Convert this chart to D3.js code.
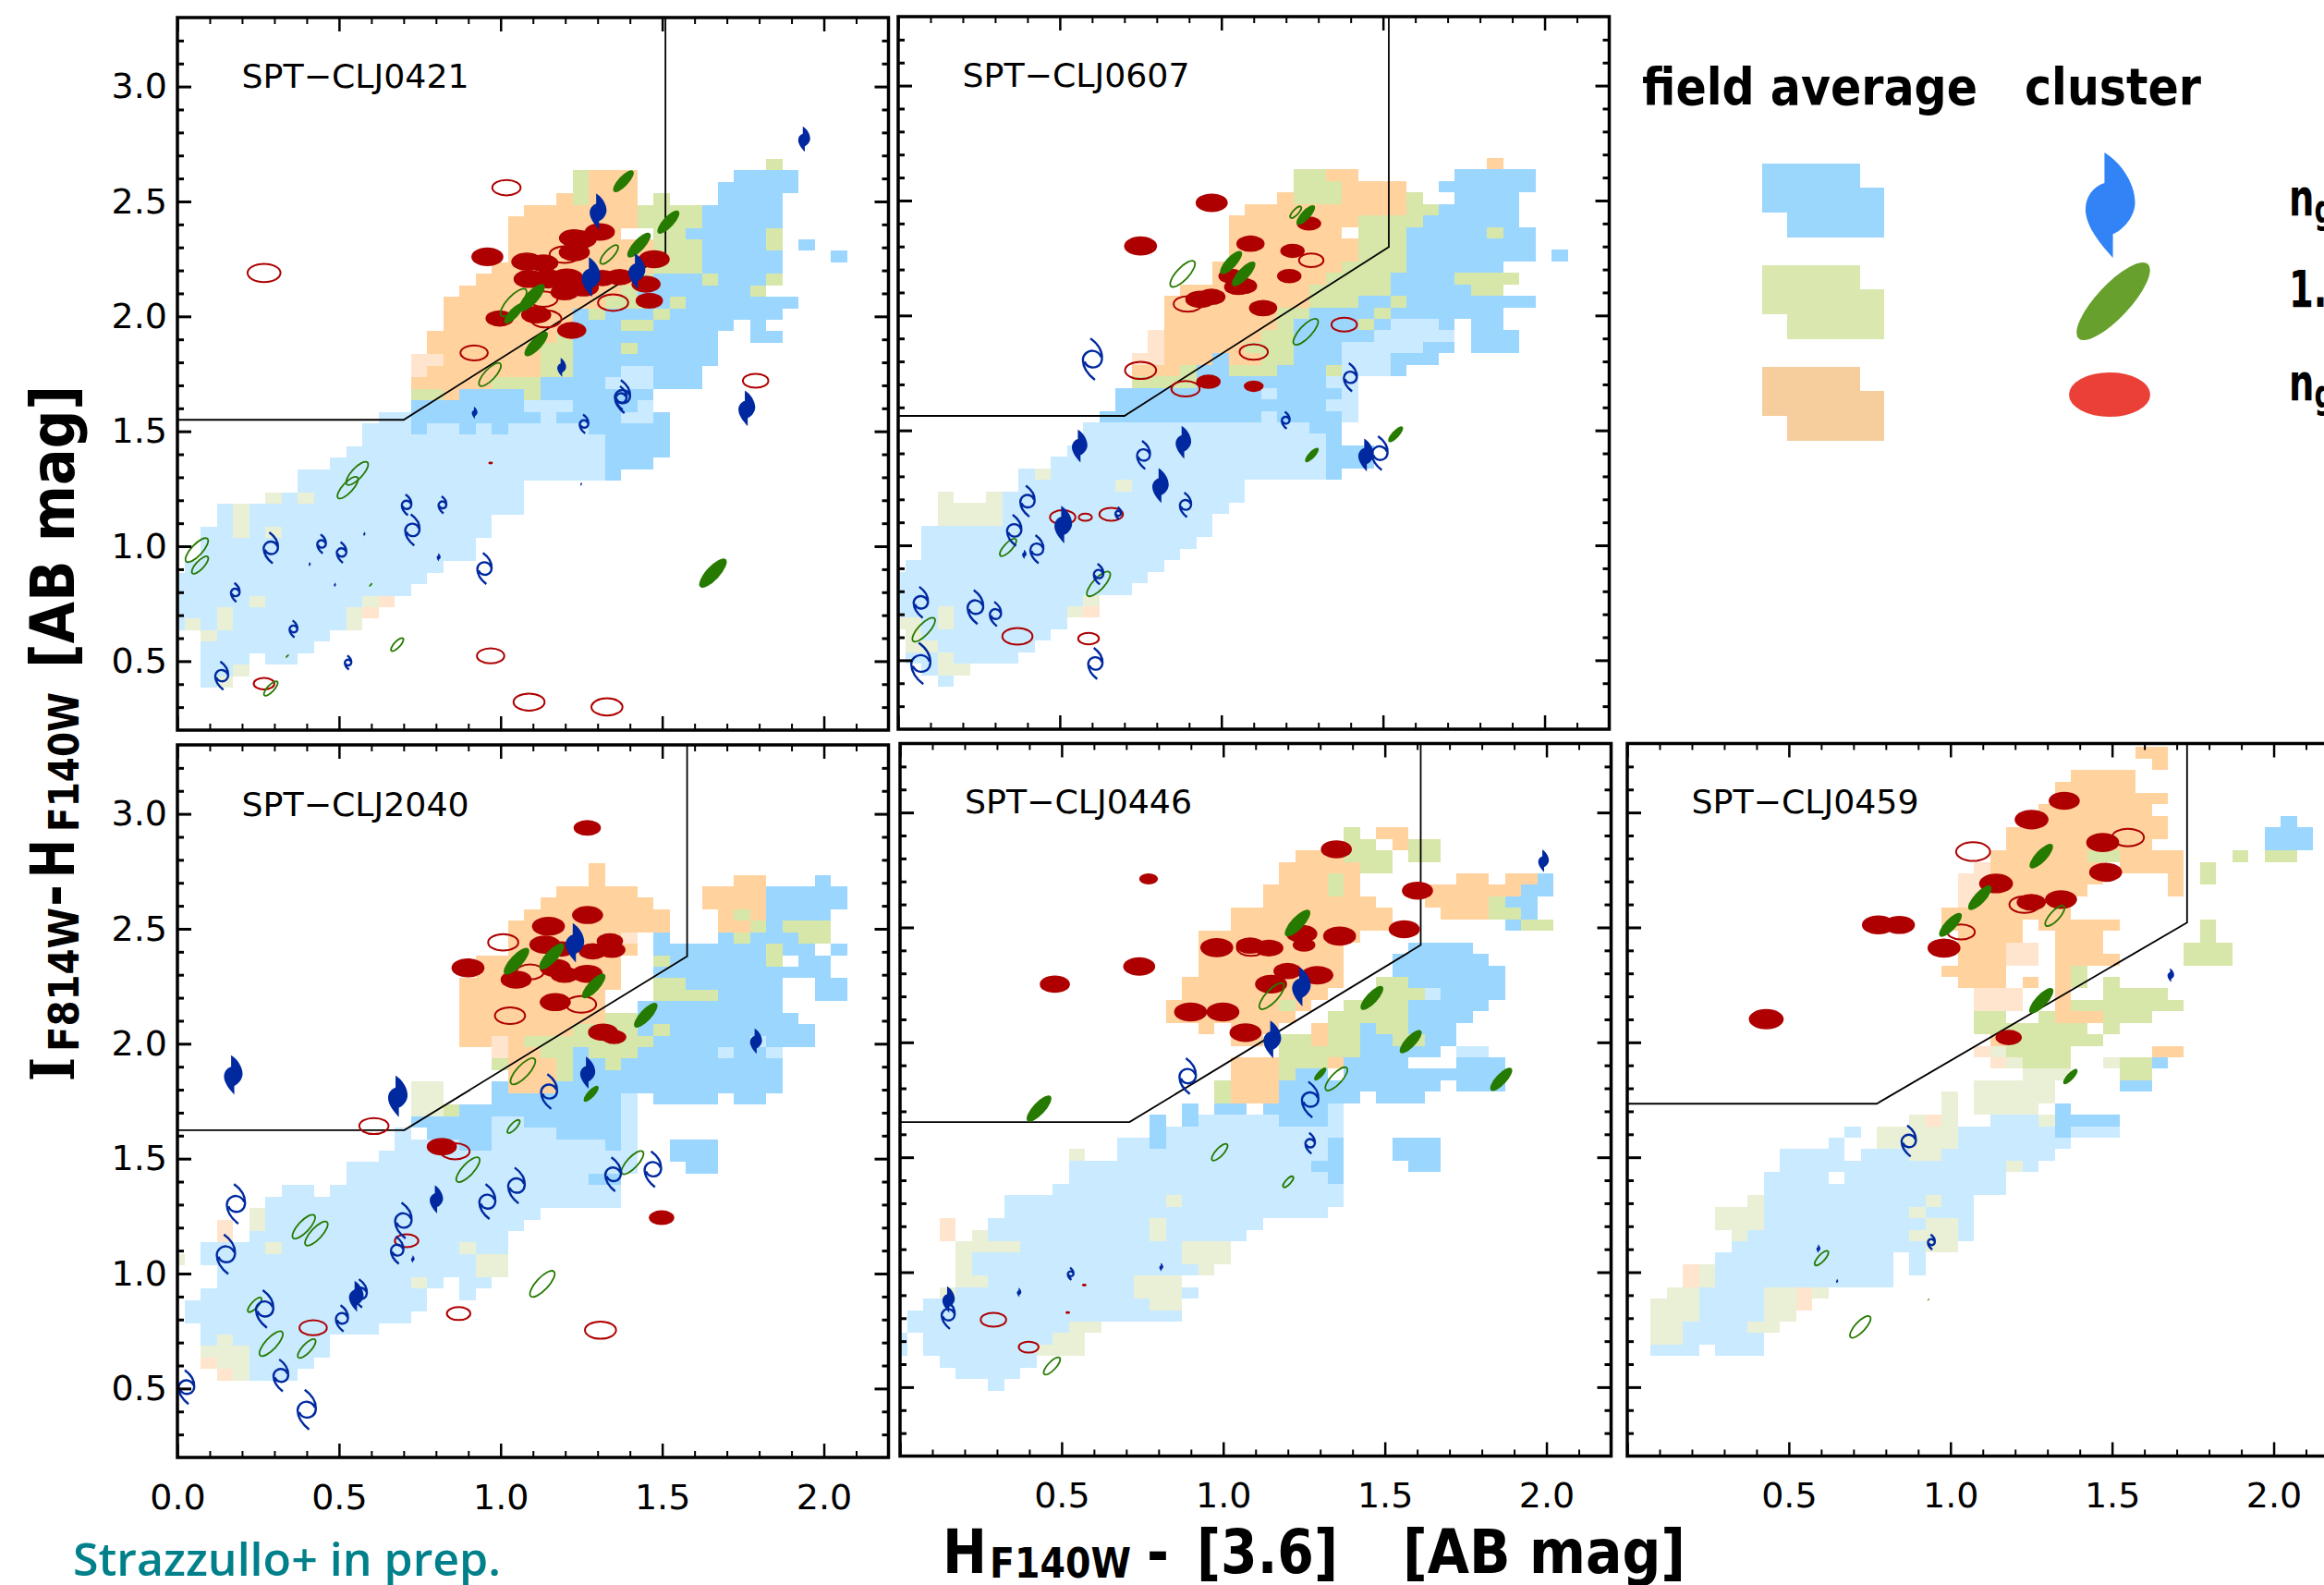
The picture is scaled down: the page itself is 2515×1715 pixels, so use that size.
<!DOCTYPE html>
<html>
<head>
<meta charset="utf-8">
<script src="https://cdn.jsdelivr.net/npm/d3@7"></script>
<style>
  html, body { margin: 0; padding: 0; background: #fff; overflow: hidden; }
  svg { display: block; }
</style>
</head>
<body>
<div class="chart"></div>
<script>
// field density cells: "row colour firstCol-lastCol ..." on the 0.05 mag colour-colour grid
// b/l = blue + faint, g/h = green + faint, o/p = orange + faint
const cells0421 = [
  "6 g36", "7 g24 o25-27 b34-37", "8 g24 o25-27 b33-37", "9 o23 g24 o25-27 g29 b33-36",
  "10 o21-27 g28-31 b32-36", "11 o20-27 g28-31 b32-36", "12 o20-26 g29-30 b31-35 g36",
  "13 o20-28 g29-31 b32-35 g36 b38", "14 o20-28 g29-31 b32-36 b40", "15 o19-28 g29-31 b32-36",
  "16 o18-27 g28 b29-31 g32 b33-35 g36", "17 o17-26 g27 b28-34 g35", "18 o16-25 g26-28 b29 g30 b31-37",
  "19 o16-23 b24 g25 b26-28 g29 b30-36", "20 o16-23 b24-26 g27-28 b29-33 b35", "21 o15-22 g23 b24-32 b35-36",
  "22 o15-21 g22-23 b24-26 g27 b28-32", "23 p14-15 o16-21 g22-23 b24-32", "24 p14 o15-21 g22-23 b24-26 l27-28 b29-31",
  "25 o14-18 g19-21 b22-25 l26-28 b29-31", "26 g14-15 o16 b17-20 g21 b22-28", "27 b14-20 l21-23 b24-27 l28",
  "28 l12-13 b14-21 l22 b23-26 l27-28 b29", "29 l11-13 b14 l15-16 b17 l18 b19 l20-24 b25-29", "30 l11-25 b26-29",
  "31 l10-25 b26-29", "32 l9-25 b26-28", "33 l7-22 l23-25 b26", "34 l7-20", "35 h5 l6 h7 l8-20",
  "36 l2 h3 l4-20", "37 l2 h3 l4-18", "38 l1-2 h3 l4 h5 l6-18", "39 l1-17", "40 l1-17", "41 l0-15",
  "42 l-1-14", "43 l-1-13", "44 l-1-3 h4 l5-10 h11 p12", "45 l-1-1 h2 l3-9 h10 p11", "46 l-1 h0 l1 h2 l3-9 h10",
  "47 h1 l2-8", "48 l1-7", "49 l1-3 l5-6", "50 l1-2 h3", "51 l1 h2"
];
const cells0607 = [
  "6 o36", "7 g24-25 o26-27 b34-38", "8 g24-26 o27-30 b33-38", "9 o23 g24-26 o27-30 g31 b34-37",
  "10 o21-30 g31-32 b33-37", "11 o20-27 g28-31 b32-37", "12 o20-26 g28-30 b31-35 g36 b37-38",
  "13 o20-27 g28-30 b31-38", "14 o20-27 g28-30 b31-38 b40", "15 o19-26 g27-30 b31-36",
  "16 o19-25 g26-29 b30-33 g34-37", "17 o17-24 g25-29 b30-34 g35-36", "18 o16-24 g25-27 b28-29 g30 b31-38",
  "19 o16-22 g23-24 b25-28 g29 b30-36", "20 o16-22 g23 b24-27 g28 b29 l30-32 b33 b35-36",
  "21 p15 o16-21 g22-23 b24-28 l29-33 b35-37", "22 p15 o16-20 g21-23 b24-26 l27-31 b32-33 b35-37",
  "23 p14-15 o16-18 b19 o20-21 g22-23 b24-26 l27-29 b30-32", "24 o14-16 g17 b18-19 g20-22 b23-25 g26 l27-29 b30",
  "25 g14-17 b18-25 l26-27", "26 b13-21 l22 b23-26 l27", "27 b13-25 l26-27", "28 b12-21 l22 b23-26 l27",
  "29 l11-24 b25-26", "30 l11-25 b26", "31 l10-25 b26-28", "32 l9-25 b26-28", "33 l7 h8 l9-22 l23-25 b26",
  "34 l7-12 h13 l14-20", "35 h2 h5 l6-20", "36 h2-5 l6-19", "37 h2-5 l6-18", "38 l1-18", "39 l1-17", "40 l1-16",
  "41 l0-15", "42 l-1-14", "43 l-1-13", "44 l-1-10 h11", "45 l-1-1 h2 l3-9 h10 p11", "46 h-1-0 l1 h2 l3-9",
  "47 h0 l1-8", "48 h0-1 l2-7", "49 l0-1 h2 l3-4 l5-6", "50 l1 h2-3", "51 l2"
];
const cells2040 = [
  "4 o25", "5 o25 o34-35 b39", "6 o23-27 o32-35 b36-40", "7 o22-28 o32-35 b36-40", "8 o21-29 o33 g34 o35 b36-39",
  "9 o20-29 o33-34 g35 b36 g37 g38-39", "10 o20-26 p27 b29 b33 g34 b35-37 g38-39", "11 o20-27 b29-35 g36 b37-38 b40",
  "12 o18-26 g29 b30-35 g36 b38-39", "13 o18-26 b29-39", "14 o17-26 g29-30 b31-36 b39-40", "15 o17-25 g29-32 b33-36 b39-40",
  "16 o17-25 b28-36", "17 o17-25 g26-27 b28-37", "18 o17-23 g24-27 b28 g29 b30-38", "19 o17-18 p19 o20 g21-28 b29-34 l35 b36-37 b38",
  "20 p19 o20-21 g22-23 b24 g25-27 b28-32 l33 b34-35 l36", "21 g19 o20-22 g23 b24-25 g26 b27-36", "22 o20-22 g23 b24-36",
  "23 h14-15 b19 o20-22 b23-36", "24 h14-15 b19-26 l27 b29-32 b34-35", "25 h14-15 g16 b17-18 b19-26 l27",
  "26 b14-18 l19-20 b21-26 l27", "27 l13 b15-18 l19-22 b23-26 l27", "28 l13-16 b17-18 l19-25 b26 l27 b30-32", "29 l12-27 b30-32",
  "30 l10-27 b31-32", "31 l10-24 b25-26", "32 l6-7 l9-26", "33 l5-26", "34 h4 l5-21", "35 p2 h4 l5-20", "36 p2 l4-19",
  "37 l1-4 h5 l6-16 h17 l18-19", "38 h-1 l1-17 h18-19", "39 l2-17 h18-19", "40 l2-13 h14 l15 l17-18", "41 l1-14 l17",
  "42 l0-14", "43 l0-13", "44 l1-11", "45 l1 h2 l3-8", "46 h1-3 l4-8", "47 p1 h2-3 l4-7", "48 p2 h3 l4-6"
];
const cells0446 = [
  "1 g27 o29-30", "2 g27-28 o30 g31-32", "3 o24-26 g27-29 g31-32", "4 o23-27 g28-29", "5 o23-25 g26 o27 o34-35 o37-38 b39",
  "6 o22-25 g26 o27 o32-37 b38-39", "7 o22-28 o32-35 g36 b37-38", "8 o20-29 o33-35 g36-37 b38", "9 o20-29 b37 g38-39",
  "10 o18-27", "11 o18-26 b31-34", "12 o18-26 b30-35", "13 o18-26 b30-36", "14 o17-26 g29-30 b31-36", "15 o17-25 g29-31 l32 b33-36",
  "16 o16-22 g23 o24 g27-30 b31-35", "17 o16-23 g26-30 b31-34", "18 o18 o20-22 o25 g26-27 b28 g29-30 b31-33",
  "19 o20-21 g23-24 o25 g26-27 b28-29 g30-31 b32-33", "20 g23-27 b28-32 l34-35", "21 o20-22 g23-25 o26 b27-30 b34-36",
  "22 o20-22 g23 b24-25 b27-36", "23 g19 o20-22 b23-32 b34-36", "24 g19 o20-22 b23-27 b29-31", "25 b17 b19-20 b22-26 l26",
  "26 b15 b17 l18-22 b23-25 l26", "27 b15 l16-26", "28 l13-14 b15 l16-25 b26 b30-32", "29 h10 l13-25 b26 b30-32", "30 l10-24 b25-26 b31-32", "31 l10-25 b26",
  "32 l9-26", "33 l6-15 h16 l17-26", "34 l6-25", "35 p2 l5-14 h15 l16-21", "36 p2 h4 l5-14 h15 l16-20", "37 h3-6 l7-16 h17-19",
  "38 h3 l4-16 h17-19", "39 h3 l4-17 h18", "40 h3-4 l5-13 h14-16", "41 h2 l3-13 h14-16 l17", "42 l1-14 h15-16", "43 l0-16",
  "44 l0-9 h10-11", "45 l-1 l1-8 h9-10", "46 l-1 l1-7 h8-10", "47 l2-7", "48 l3-6", "49 l5"
];
const cells0459 = [
  "-6 o31-32", "-5 o32", "-4 o27-30", "-3 o26-30", "-2 o26-32", "-1 o25-31", "0 o25-32 b40", "1 o23-32 b39-41", "2 o23-31 b39-41",
  "3 o22-27 g28-29 o30-33 g37 g39-40", "4 p21 o22-28 o30-33 g35", "5 p20-21 o22-28 o33 g35", "6 p20-21 o22-27 o33", "7 p20 o21-26",
  "8 o19-26", "9 o19-23 o25-26 o27-29 g35", "10 o20-23 o26-28 g35", "11 o20-22 p23-24 o26-28 g34-36", "12 o20-22 p23-24 o26-29 g34-36",
  "13 o19-22 o26 g27", "14 o20-22 o24 o26 g27 g29", "15 p21-23 o26 g29-32", "16 p21-23 o26 g27-33", "17 g21-22 g25 o26-28 g29-31",
  "18 g21-27 g29", "19 o22 g23-28", "20 p21 h22 g23-26 o32-33", "21 p22 h23 g24-26 h29 g30-31 b32", "22 h24-26 g30-31", "23 h21-25 b30-31",
  "24 h19 h21-25", "25 h19 h21-24 b26", "26 h17 p18 h19 l22-24 h25 b26-29", "27 l13 h15-19 l20-25 b26 l27-29", "28 l12 h15-19 l20-26",
  "29 l9-12 l14-16 h17-18 l19-25", "30 l9-22 h23 l24", "31 l8-11 l13-22", "32 l8-22", "33 h7 l8-17 h18 l19-20", "34 h5-7 l8-16 h17 l18-20",
  "35 h5-7 l8-17 h18-19 l20", "36 h6 l7-16 h17-19 l20", "37 l6-17 h18-19", "38 l5-15 l17", "39 p3 h4 l5-15 l17", "40 p3 h4 l5-14 l15",
  "41 h2-3 l4-7 h8-9 p10 h11", "42 h1-3 l4-7 h8-9 p10", "43 h1-3 l4-7 h8-9", "44 h1-2 l3-6 h7-8", "45 h1-3 l3-7", "46 l1-3 l5-7"
];

// cluster galaxies: [colour x, colour y, size]
const redFill0421 = [[0.959,2.259,34],[1.081,2.238,33],[1.132,2.232,32],[1.088,2.163,33],[1.147,2.163,35],[1.205,2.167,35],[1.198,2.105,30],[1.256,2.126,33],[1.227,2.341,32],[1.249,2.335,33],[1.228,2.279,33],[1.307,2.367,32],[1.315,2.167,30],[1.368,2.171,30],[1.475,2.249,33],[1.45,2.14,31],[1.46,2.068,29],[1.22,1.939,31],[0.997,1.991,30],[1.11,2.007,32],[0.969,1.362,5]];
const redOpen0421 = [[1.018,2.56,30],[0.268,2.189,35],[1.198,2.269,32],[1.132,2.075,30],[1.14,1.989,33],[1.348,2.06,32],[0.918,1.841,29],[1.789,1.72,27],[0.969,0.523,29],[1.088,0.322,33],[1.329,0.301,33],[0.268,0.402,22]];
const greenFill0421 = [[1.38,2.588,30],[1.519,2.41,32],[1.428,2.31,34],[1.096,2.081,38],[1.041,2.013,28],[1.11,1.88,34],[1.657,0.883,40],[0.598,0.832,5],[0.34,0.522,5]];
const greenOpen0421 = [[1.336,2.269,26],[1.04,2.06,38],[0.967,1.747,32],[0.556,1.317,32],[0.527,1.255,30],[0.06,0.983,33],[0.07,0.918,24],[0.68,0.572,18],[0.289,0.381,20]];
const blueFill0421 = [[1.938,2.771,27],[1.3,2.457,38],[1.278,2.171,42],[1.42,2.197,38],[1.188,1.778,20],[0.919,1.581,13],[1.76,1.6,38],[1.249,1.27,4],[0.808,0.952,9],[0.578,1.053,5],[0.409,0.922,5],[0.487,0.832,5]];
const blueOpen0421 = [[1.377,1.651,35],[1.373,1.645,25],[1.258,1.532,20],[0.709,1.18,22],[0.82,1.18,18],[0.727,1.071,33],[0.446,1.01,20],[0.508,0.973,22],[0.289,0.993,33],[0.95,0.903,33],[0.179,0.799,20],[0.359,0.64,18],[0.528,0.494,15],[0.137,0.437,30]];

const redFill0607 = [[0.97,2.49,34],[0.75,2.302,35],[1.271,2.4,26],[1.09,2.312,30],[1.22,2.281,26],[1.21,2.171,26],[1.03,2.171,27],[1.052,2.124,30],[1.067,2.128,30],[0.935,2.07,32],[0.969,2.081,30],[1.129,2.032,30],[0.96,1.712,26],[1.1,1.692,21]];
const redOpen0607 = [[1.278,2.24,26],[0.896,2.05,30],[0.75,1.761,33],[0.889,1.681,30],[1.1,1.841,30],[1.38,1.96,27],[0.509,1.122,27],[0.579,1.122,14],[0.659,1.135,25],[0.369,0.604,32],[0.589,0.594,22]];
const greenFill0607 = [[1.261,2.437,27],[1.03,2.23,32],[1.069,2.181,34],[1.28,1.393,20],[1.539,1.483,22]];
const greenOpen0607 = [[1.23,2.449,16],[0.88,2.181,36],[1.261,1.929,36],[0.34,0.991,24],[0.62,0.832,34],[0.079,0.633,33]];
const blueFill0607 = [[0.56,1.432,35],[0.881,1.448,35],[0.81,1.26,37],[0.509,1.09,40],[1.446,1.393,35],[0.39,0.961,10]];
const blueOpen0607 = [[0.601,1.81,44],[1.399,1.731,30],[1.199,1.544,18],[0.759,1.393,30],[1.49,1.401,36],[0.4,1.192,33],[0.889,1.176,26],[0.681,1.139,13],[0.359,1.065,33],[0.429,0.983,30],[0.62,0.875,22],[0.07,0.752,33],[0.239,0.731,36],[0.301,0.701,26],[0.07,0.486,44],[0.61,0.486,33]];

const redFill2040 = [[1.268,2.939,29],[1.269,2.56,33],[1.148,2.511,35],[1.338,2.447,28],[1.137,2.431,33],[1.188,2.412,28],[1.285,2.402,30],[1.344,2.408,29],[0.899,2.33,35],[1.169,2.33,33],[1.198,2.3,30],[1.268,2.304,33],[1.048,2.279,33],[1.169,2.181,33],[1.317,2.05,32],[1.351,2.029,26],[0.818,1.552,32],[1.498,1.243,27]];
const redOpen2040 = [[1.008,2.441,32],[1.091,2.312,29],[1.249,2.171,32],[1.029,2.122,32],[0.608,1.642,31],[0.859,1.532,31],[0.709,1.143,25],[0.42,0.764,29],[0.87,0.826,25],[1.309,0.754,33]];
const greenFill2040 = [[1.049,2.359,37],[1.158,2.38,36],[1.288,2.251,34],[1.449,2.124,34],[1.28,1.782,22]];
const greenOpen2040 = [[1.069,1.88,36],[1.04,1.64,18],[0.899,1.452,34],[1.408,1.483,32],[0.391,1.204,33],[0.43,1.174,33],[1.129,0.955,36],[0.239,0.864,20],[0.29,0.695,34],[0.4,0.674,26]];
const blueFill2040 = [[1.228,2.439,42],[0.171,1.864,42],[0.68,1.771,44],[1.268,1.874,34],[1.789,2.011,27],[0.8,1.323,30],[0.552,0.901,33],[0.728,1.063,8]];
const blueOpen2040 = [[1.15,1.792,37],[1.348,1.432,36],[1.471,1.454,38],[1.049,1.383,38],[0.959,1.313,37],[0.699,1.231,38],[0.68,1.102,29],[0.181,1.303,42],[0.15,1.084,42],[0.566,0.914,30],[0.509,0.805,28],[0.27,0.846,40],[0.32,0.557,34],[0.4,0.408,42],[0.028,0.506,36]];

const redFill0446 = [[1.35,2.84,33],[0.769,2.711,20],[1.601,2.66,33],[1.56,2.492,33],[1.36,2.462,35],[1.243,2.472,33],[1.25,2.423,24],[0.98,2.412,35],[1.083,2.421,30],[1.141,2.41,31],[0.74,2.33,34],[0.479,2.253,32],[1.199,2.31,30],[1.291,2.292,34],[1.148,2.253,34],[0.899,2.132,35],[0.999,2.132,35],[1.069,2.042,34],[0.57,0.944,5],[0.519,0.824,5]];
const redOpen0446 = [[1.086,2.41,30],[0.289,0.793,27],[0.398,0.674,21]];
const greenFill0446 = [[1.23,2.519,37],[1.46,2.193,33],[1.58,2.003,32],[1.3,1.862,18],[1.86,1.839,32],[0.43,1.712,36]];
const greenOpen0446 = [[1.15,2.201,36],[1.35,1.841,32],[0.989,1.522,23],[1.201,1.393,15],[0.47,0.592,24]];
const blueFill0446 = [[1.99,2.789,24],[1.24,2.242,42],[1.15,2.013,40],[0.149,0.881,28],[0.368,0.912,10],[0.808,1.022,9]];
const blueOpen0446 = [[0.89,1.853,38],[1.269,1.751,38],[1.269,1.561,22],[0.528,0.993,13],[0.149,0.815,30]];

const redFill0459 = [[1.352,3.051,33],[1.251,2.969,36],[1.471,2.869,35],[1.48,2.74,35],[1.141,2.691,36],[1.25,2.609,31],[1.342,2.621,34],[0.777,2.511,35],[0.842,2.511,33],[0.98,2.41,35],[0.43,2.101,37],[1.18,2.021,28]];
const redOpen0459 = [[1.07,2.83,36],[1.549,2.891,34],[1.229,2.599,32],[1.033,2.48,29]];
const greenFill0459 = [[1.281,2.81,34],[1.091,2.629,34],[1,2.511,33],[1.281,2.181,35],[1.371,1.851,21],[0.932,0.881,3]];
const greenOpen0459 = [[1.323,2.55,28],[0.601,1.061,20],[0.721,0.762,30]];
const blueFill0459 = [[1.681,2.292,15],[0.591,1.102,9],[0.649,0.961,5]];
const blueOpen0459 = [[0.871,1.571,33],[0.941,1.131,16]];

// red-sequence selection boundary, one per cluster
const cut0421 = [[0,1.55],[0.7,1.55],[1.51,2.27],[1.51,3.3]];
const cut0607 = [[0,1.563],[0.7,1.563],[1.518,2.298],[1.518,3.3]];
const cut2040 = [[0,1.624],[0.702,1.624],[1.577,2.38],[1.577,3.3]];
const cut0446 = [[0,1.653],[0.71,1.653],[1.611,2.423],[1.611,3.3]];
const cut0459 = [[0,1.733],[0.772,1.733],[1.732,2.521],[1.732,3.3]];

const xMajor = [0, 0.5, 1, 1.5, 2];
const xMinor = [0.1,0.2,0.3,0.4,0.6,0.7,0.8,0.9,1.1,1.2,1.3,1.4,1.6,1.7,1.8,1.9,2.1];
const yMajor = [0.5, 1, 1.5, 2, 2.5, 3];
const yMinor = [0.3,0.4,0.6,0.7,0.8,0.9,1.1,1.2,1.3,1.4,1.6,1.7,1.8,1.9,2.1,2.2,2.3,2.4,2.6,2.7,2.8,2.9,3.1,3.2];

const cellColor = { b: "#9bd6ff", l: "#c9eaff", g: "#d7e6a9", h: "#eaf0d6", o: "#ffd29e", p: "#ffe4ce" };
const redColor = "#ae0000", greenColor = "#267a00", blueColor = "#0029a0";

const width = 2515, height = 1715;
const panelWidth = 769.5, panelHeight = 771;

const panels = [
  { name: "SPT\u2212CLJ0421", id: "a", left: 192, top: 19, labelX: 261.6, labelY: 95, yLabels: true, xLabels: false, xStart: 0,
    cells: cells0421, cut: cut0421, redFill: redFill0421, redOpen: redOpen0421, greenFill: greenFill0421, greenOpen: greenOpen0421, blueFill: blueFill0421, blueOpen: blueOpen0421 },
  { name: "SPT\u2212CLJ0607", id: "b", left: 972, top: 18, labelX: 1041.5, labelY: 94, yLabels: false, xLabels: false, xStart: 0,
    cells: cells0607, cut: cut0607, redFill: redFill0607, redOpen: redOpen0607, greenFill: greenFill0607, greenOpen: greenOpen0607, blueFill: blueFill0607, blueOpen: blueOpen0607 },
  { name: "SPT\u2212CLJ2040", id: "c", left: 192, top: 806, labelX: 261.6, labelY: 882.6, yLabels: true, xLabels: true, xStart: 0,
    cells: cells2040, cut: cut2040, redFill: redFill2040, redOpen: redOpen2040, greenFill: greenFill2040, greenOpen: greenOpen2040, blueFill: blueFill2040, blueOpen: blueOpen2040 },
  { name: "SPT\u2212CLJ0446", id: "d", left: 974, top: 804.5, labelX: 1044, labelY: 880, yLabels: false, xLabels: true, xStart: 0.5,
    cells: cells0446, cut: cut0446, redFill: redFill0446, redOpen: redOpen0446, greenFill: greenFill0446, greenOpen: greenOpen0446, blueFill: blueFill0446, blueOpen: blueOpen0446 },
  { name: "SPT\u2212CLJ0459", id: "e", left: 1761, top: 804.5, labelX: 1830.5, labelY: 880, yLabels: false, xLabels: true, xStart: 0.5,
    cells: cells0459, cut: cut0459, redFill: redFill0459, redOpen: redOpen0459, greenFill: greenFill0459, greenOpen: greenOpen0459, blueFill: blueFill0459, blueOpen: blueOpen0459 }
];

const sizeScale = d3.scaleLinear().domain([0, 50]).range([0, 25.5]);

// unit glyphs, half height = 1
const blueFillGlyph = "M-0.08,-1 C0.25,-0.8 0.5,-0.4 0.5,-0.05 C0.5,0.2 0.3,0.45 0.08,0.55 L0.08,1 C-0.15,0.75 -0.44,0.4 -0.44,0.08 C-0.44,-0.15 -0.3,-0.35 -0.08,-0.42 Z";
const blueOpenGlyph = "M-0.1,-1 C0.25,-0.75 0.48,-0.4 0.46,-0.02 C0.44,0.3 0.2,0.42 -0.02,0.4 C-0.2,0.38 -0.32,0.28 -0.38,0.12 M0.12,1 C-0.2,0.75 -0.45,0.4 -0.46,0.05 C-0.46,-0.25 -0.2,-0.42 0.02,-0.4 C0.2,-0.38 0.36,-0.25 0.42,-0.1";

const svg = d3.select(".chart").append("svg")
  .attr("width", width)
  .attr("height", height)
  .attr("viewBox", `0 0 ${width} ${height}`);

function parseRow(row) {
  const parts = row.split(" ");
  const r = +parts[0];
  return parts.slice(1).map(p => {
    const m = p.match(/^([a-z])(-?\d+)(?:-(\d+))?$/);
    return { r: r, code: m[1], c0: +m[2], c1: m[3] === undefined ? +m[2] : +m[3] };
  });
}

function drawPanel(p) {
  const x = d3.scaleLinear().domain([0, 2.2]).range([p.left, p.left + panelWidth]);
  const y = d3.scaleLinear().domain([0.2, 3.3]).range([p.top + panelHeight, p.top]);

  // bin edges sit a little off the round numbers
  const xEdge = c => 0.05 * (c + 0.45);
  const yEdge = r => 3 - 0.05 * (r + 0.3);

  const g = svg.append("g").attr("class", "panel");

  g.append("clipPath").attr("id", "clip-" + p.id)
    .append("rect")
    .attr("x", p.left).attr("y", p.top)
    .attr("width", panelWidth).attr("height", panelHeight);

  const plot = g.append("g").attr("clip-path", `url(#clip-${p.id})`);

  plot.append("g").selectAll("rect")
    .data(p.cells.flatMap(parseRow))
    .enter().append("rect")
      .attr("x", d => x(xEdge(d.c0)))
      .attr("y", d => y(yEdge(d.r)))
      .attr("width", d => x(xEdge(d.c1 + 1)) - x(xEdge(d.c0)))
      .attr("height", d => y(yEdge(d.r + 1)) - y(yEdge(d.r)))
      .attr("fill", d => cellColor[d.code])
      .attr("shape-rendering", "crispEdges");

  const line = d3.line().x(d => x(d[0])).y(d => y(d[1]));
  plot.append("path")
    .attr("d", line(p.cut))
    .attr("fill", "none")
    .attr("stroke", "black")
    .attr("stroke-width", 1.8);

  // red
  plot.append("g").selectAll("ellipse")
    .data(p.redOpen)
    .enter().append("ellipse")
      .attr("cx", d => x(d[0])).attr("cy", d => y(d[1]))
      .attr("rx", d => sizeScale(d[2])).attr("ry", d => sizeScale(d[2]) * 0.55)
      .attr("fill", "none").attr("stroke", redColor).attr("stroke-width", 2);
  plot.append("g").selectAll("ellipse")
    .data(p.redFill)
    .enter().append("ellipse")
      .attr("cx", d => x(d[0])).attr("cy", d => y(d[1]))
      .attr("rx", d => sizeScale(d[2])).attr("ry", d => sizeScale(d[2]) * 0.58)
      .attr("fill", redColor);

  // green
  plot.append("g").selectAll("ellipse")
    .data(p.greenOpen)
    .enter().append("ellipse")
      .attr("transform", d => `translate(${x(d[0])},${y(d[1])}) rotate(-47)`)
      .attr("rx", d => sizeScale(d[2])).attr("ry", d => sizeScale(d[2]) * 0.36)
      .attr("fill", "none").attr("stroke", greenColor).attr("stroke-width", 1.8);
  plot.append("g").selectAll("ellipse")
    .data(p.greenFill)
    .enter().append("ellipse")
      .attr("transform", d => `translate(${x(d[0])},${y(d[1])}) rotate(-47)`)
      .attr("rx", d => sizeScale(d[2])).attr("ry", d => sizeScale(d[2]) * 0.36)
      .attr("fill", greenColor);

  // blue
  plot.append("g").selectAll("path")
    .data(p.blueOpen)
    .enter().append("path")
      .attr("d", blueOpenGlyph)
      .attr("transform", d => `translate(${x(d[0])},${y(d[1])}) scale(${sizeScale(d[2])})`)
      .attr("fill", "none").attr("stroke", blueColor)
      .attr("stroke-width", 2.4).attr("vector-effect", "non-scaling-stroke");
  plot.append("g").selectAll("path")
    .data(p.blueFill)
    .enter().append("path")
      .attr("d", blueFillGlyph)
      .attr("transform", d => `translate(${x(d[0])},${y(d[1])}) scale(${sizeScale(d[2])})`)
      .attr("fill", blueColor);

  // axes, ticks on all four sides
  const fmt = d3.format(".1f");
  const xFmt = d => (p.xLabels && d >= p.xStart) ? fmt(d) : "";
  const yFmt = d => p.yLabels ? fmt(d) : "";
  const bottom = p.top + panelHeight, right = p.left + panelWidth;

  const axisList = [
    [d3.axisBottom(x).tickValues(xMinor).tickSize(-7).tickFormat(""), `translate(0,${bottom})`, 2],
    [d3.axisTop(x).tickValues(xMinor).tickSize(-7).tickFormat(""), `translate(0,${p.top})`, 2],
    [d3.axisTop(x).tickValues(xMajor).tickSize(-15).tickFormat(""), `translate(0,${p.top})`, 2.5],
    [d3.axisLeft(y).tickValues(yMinor).tickSize(-7).tickFormat(""), `translate(${p.left},0)`, 3],
    [d3.axisRight(y).tickValues(yMinor).tickSize(-7).tickFormat(""), `translate(${right},0)`, 3],
    [d3.axisRight(y).tickValues(yMajor).tickSize(-15).tickFormat(""), `translate(${right},0)`, 3],
    [d3.axisBottom(x).tickValues(xMajor).tickSize(-15).tickPadding(29).tickFormat(xFmt), `translate(0,${bottom})`, 2.5],
    [d3.axisLeft(y).tickValues(yMajor).tickSize(-15).tickPadding(11).tickFormat(yFmt), `translate(${p.left},0)`, 3]
  ];
  axisList.forEach(a => {
    const ag = g.append("g")
      .attr("transform", a[1])
      .call(a[0])
      .attr("font-family", "'DejaVu Sans', sans-serif")
      .attr("font-size", 38);
    ag.select(".domain").remove();
    ag.selectAll("line").attr("stroke-width", a[2]).attr("stroke", "black");
    ag.selectAll("text").attr("fill", "black");
  });

  g.append("rect")
    .attr("x", p.left).attr("y", p.top)
    .attr("width", panelWidth).attr("height", panelHeight)
    .attr("fill", "none").attr("stroke", "black").attr("stroke-width", 3.5);

  g.append("text")
    .attr("x", p.labelX).attr("y", p.labelY)
    .attr("font-family", "'DejaVu Sans', sans-serif")
    .attr("font-size", 36)
    .attr("textLength", 246)
    .attr("lengthAdjust", "spacingAndGlyphs")
    .text(p.name);
}

panels.forEach(drawPanel);

// axis titles, pieces placed one by one because of the subscripts
const titleFont = "'DejaVu Sans', sans-serif";
const xTitleParts = [
  { t: "H", x: 1020, w: 48, s: 66, b: 1702 },
  { t: "F140W", x: 1071, w: 153, s: 44, b: 1707 },
  { t: "-", x: 1241, w: 24, s: 66, b: 1702 },
  { t: "[3.6]", x: 1295, w: 153, s: 66, b: 1702 },
  { t: "[AB mag]", x: 1518, w: 306, s: 66, b: 1702 }
];
svg.append("g").selectAll("text")
  .data(xTitleParts)
  .enter().append("text")
    .attr("x", d => d.x).attr("y", d => d.b)
    .attr("font-family", titleFont).attr("font-weight", "bold")
    .attr("font-size", d => d.s)
    .attr("textLength", d => d.w).attr("lengthAdjust", "spacingAndGlyphs")
    .text(d => d.t);

const yTitleParts = [
  { t: "I", x: 0, w: 26, s: 66, b: 0, f: "'DejaVu Serif', serif" },
  { t: "F814W", x: 32, w: 156, s: 44, b: 5 },
  { t: "-", x: 189, w: 24, s: 66, b: 0 },
  { t: "H", x: 220, w: 42, s: 66, b: 0 },
  { t: "F140W", x: 270, w: 151, s: 44, b: 5 },
  { t: "[AB mag]", x: 447, w: 306, s: 66, b: 0 }
];
svg.append("g")
  .attr("transform", "translate(80,1170) rotate(-90)")
  .selectAll("text")
  .data(yTitleParts)
  .enter().append("text")
    .attr("x", d => d.x).attr("y", d => d.b)
    .attr("font-family", d => d.f || titleFont).attr("font-weight", "bold")
    .attr("font-size", d => d.s)
    .attr("textLength", d => d.w).attr("lengthAdjust", "spacingAndGlyphs")
    .text(d => d.t);

svg.append("text")
  .attr("x", 79).attr("y", 1705)
  .attr("font-family", "'Open Sans', sans-serif")
  .attr("font-weight", 600)
  .attr("font-size", 48)
  .attr("fill", "#00808a")
  .attr("textLength", 463).attr("lengthAdjust", "spacingAndGlyphs")
  .text("Strazzullo+ in prep.");

// legend
const legendHeads = [
  { t: "field average", x: 1777, w: 363 },
  { t: "cluster", x: 2191, w: 191 }
];
svg.append("g").selectAll("text")
  .data(legendHeads)
  .enter().append("text")
    .attr("x", d => d.x).attr("y", 113)
    .attr("font-family", titleFont).attr("font-weight", "bold").attr("font-size", 55)
    .attr("textLength", d => d.w).attr("lengthAdjust", "spacingAndGlyphs")
    .text(d => d.t);

const legendPatches = [
  { c: "#9bd6fc", top: 177 },
  { c: "#dae8b0", top: 287 },
  { c: "#f6cd9c", top: 397 }
];
legendPatches.forEach(d => {
  const patch = svg.append("g").attr("fill", d.c).attr("shape-rendering", "crispEdges");
  patch.append("rect").attr("x", 1907).attr("y", d.top).attr("width", 106).attr("height", 53);
  patch.append("rect").attr("x", 1934).attr("y", d.top + 26).attr("width", 105).attr("height", 54);
});

svg.append("path")
  .attr("d", blueFillGlyph)
  .attr("transform", "translate(2282,222) scale(57)")
  .attr("fill", "#3183f6");
svg.append("ellipse")
  .attr("transform", "translate(2287,326) rotate(-47)")
  .attr("rx", 55).attr("ry", 18)
  .attr("fill", "#67a02c");
svg.append("ellipse")
  .attr("cx", 2283).attr("cy", 427)
  .attr("rx", 44).attr("ry", 24)
  .attr("fill", "#ea4037");

// these labels run off the right edge of the picture
const legendRows = [
  { main: "n", sub: "g", y: 233 },
  { main: "1.", sub: "", y: 332 },
  { main: "n", sub: "g", y: 433 }
];
legendRows.forEach(d => {
  const t = svg.append("text")
    .attr("transform", `translate(2477,${d.y}) scale(0.7,1)`)
    .attr("font-family", titleFont).attr("font-weight", "bold").attr("font-size", 55)
    .text(d.main);
  if (d.sub) t.append("tspan").attr("dy", 8).attr("font-size", 42).text(d.sub);
});
</script>
</body>
</html>
